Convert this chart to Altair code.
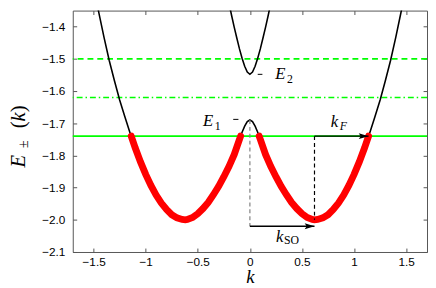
import altair as alt
import pandas as pd

# ---------------- data ----------------
k_band = [-1.5, -1.45, -1.4, -1.35, -1.3, -1.25, -1.2, -1.15, -1.1, -1.05, -1.0,
          -0.95, -0.9, -0.85, -0.8, -0.75, -0.7, -0.65, -0.62, -0.6, -0.55, -0.5,
          -0.45, -0.4, -0.35, -0.3, -0.25, -0.2, -0.15, -0.1, -0.075, -0.05, -0.025,
          0.0,
          0.025, 0.05, 0.075, 0.1, 0.15, 0.2, 0.25, 0.3, 0.35, 0.4, 0.45, 0.5, 0.55,
          0.6, 0.62, 0.65, 0.7, 0.75, 0.8, 0.85, 0.9, 0.95, 1.0, 1.05, 1.1, 1.15,
          1.2, 1.25, 1.3, 1.35, 1.4, 1.45, 1.5]
E_lower = [-1.275, -1.356, -1.433, -1.505, -1.568, -1.628, -1.680, -1.730, -1.777, -1.820, -1.859,
           -1.893, -1.923, -1.948, -1.968, -1.984, -1.994, -1.999, -2.000, -1.999, -1.993, -1.981,
           -1.965, -1.946, -1.922, -1.896, -1.866, -1.834, -1.797, -1.750, -1.728, -1.709, -1.695,
           -1.690,
           -1.695, -1.709, -1.728, -1.750, -1.797, -1.834, -1.866, -1.896, -1.922, -1.946, -1.965, -1.981, -1.993,
           -1.999, -2.000, -1.999, -1.994, -1.984, -1.968, -1.948, -1.923, -1.893, -1.859, -1.820, -1.777, -1.730,
           -1.680, -1.628, -1.568, -1.505, -1.433, -1.356, -1.275]

k_upper = [-0.225, -0.2, -0.175, -0.15, -0.125, -0.1, -0.075, -0.05, -0.025, 0.0,
           0.025, 0.05, 0.075, 0.1, 0.125, 0.15, 0.175, 0.2, 0.225]
E_upper = [-1.288, -1.328, -1.366, -1.402, -1.436, -1.469, -1.498, -1.523, -1.541, -1.548,
           -1.541, -1.523, -1.498, -1.469, -1.436, -1.402, -1.366, -1.328, -1.288]

E_levels = [-1.5, -1.62, -1.74]
level_styles = ["dash", "dashdot", "solid"]
E_fermi = -1.74
k_fermi_cross = [-1.139, -0.089, 0.089, 1.139]

# vertical dashed guides
vd_k = [0.0, 0.62]
vd_E0 = [-1.69, -1.74]
vd_E1 = [-2.02, -2.0]
vd_col = ["#808080", "black"]

# arrows (k_SO, k_F)
arr_k0 = [0.0, 0.62]
arr_k1 = [0.62, 1.139]
arr_E = [-2.02, -1.74]

# short marker dashes next to E1 / E2
dash_k0 = [-0.16, 0.075]
dash_k1 = [-0.11, 0.12]
dash_E = [-1.688, -1.548]

# annotation texts
main_txt = ["E", "E", "k", "k"]
main_k = [0.244, -0.45, 0.776, 0.25]
main_E = [-1.564, -1.710, -1.713, -2.069]
sub_txt = ["2", "1", "SO"]
sub_k = [0.356, -0.338, 0.328]
sub_E = [-1.576, -1.722, -2.074]
subi_txt = ["F"]
subi_k = [0.863]
subi_E = [-1.722]

x_ticks = [-1.5, -1, -0.5, 0, 0.5, 1, 1.5]
y_ticks = [-2.1, -2.0, -1.9, -1.8, -1.7, -1.6, -1.5, -1.4]

# ---------------- layout ----------------
W, H = 361, 246
xs = alt.Scale(domain=[-1.7, 1.7], nice=False, zero=False)
ys = alt.Scale(domain=[-2.1, -1.35], nice=False, zero=False)
AX = "#555555"
SERIF = "Liberation Serif"

ax_x_main = alt.Axis(values=x_ticks, format="~g", orient="bottom", ticks=False, domain=False,
                     grid=False, labelFont="Liberation Sans", labelFontSize=12, labelColor="black",
                     labelPadding=5, title="k", titleFont=SERIF, titleFontStyle="italic",
                     titleFontWeight="normal", titleFontSize=19, titleColor="black", titlePadding=0)
ax_y_main = alt.Axis(values=y_ticks, format=".1f", orient="left", ticks=False, domain=False,
                     grid=False, labelFont="Liberation Sans", labelFontSize=12, labelColor="black",
                     labelPadding=8, title=None)


def tick_axis(vals, orient, off):
    return alt.Axis(values=vals, orient=orient, offset=off, labels=False, domain=False, grid=False,
                    ticks=True, tickSize=4, tickColor=AX, tickWidth=1, title=None)


df_band = pd.DataFrame({"k": k_band, "E": E_lower})
df_up = pd.DataFrame({"k": k_upper, "E": E_upper})

red_rows = []
for side, lo, hi in [("L", k_fermi_cross[0], k_fermi_cross[1]), ("R", k_fermi_cross[2], k_fermi_cross[3])]:
    red_rows.append({"k": lo, "E": E_fermi, "side": side})
    for kk, ee in zip(k_band, E_lower):
        if lo < kk < hi:
            red_rows.append({"k": kk, "E": ee, "side": side})
    red_rows.append({"k": hi, "E": E_fermi, "side": side})
df_red = pd.DataFrame(red_rows)

df_levels = pd.DataFrame({"E": E_levels, "style": level_styles})
df_vd = pd.DataFrame({"k": vd_k, "E0": vd_E0, "E1": vd_E1, "col": vd_col})
df_arr = pd.DataFrame({"k0": arr_k0, "k1": arr_k1, "E": arr_E})
df_dash = pd.DataFrame({"k0": dash_k0, "k1": dash_k1, "E": dash_E})
df_main = pd.DataFrame({"t": main_txt, "k": main_k, "E": main_E})
df_sub = pd.DataFrame({"t": sub_txt, "k": sub_k, "E": sub_E})
df_subi = pd.DataFrame({"t": subi_txt, "k": subi_k, "E": subi_E})

X = lambda f: alt.X(f, type="quantitative", scale=xs, axis=None)
Y = lambda f: alt.Y(f, type="quantitative", scale=ys, axis=None)

green = alt.Chart(df_levels).mark_rule(color="#00ff00", strokeWidth=1.7).encode(
    y=Y("E"),
    strokeDash=alt.StrokeDash("style:N", scale=alt.Scale(domain=level_styles,
                              range=[[6, 4], [6, 3, 1.5, 3], [1, 0]]), legend=None),
)

black_lower = alt.Chart(df_band).mark_line(color="black", strokeWidth=1.6, clip=True).encode(
    x=alt.X("k:Q", scale=xs, axis=ax_x_main),
    y=alt.Y("E:Q", scale=ys, axis=ax_y_main),
)

black_upper = alt.Chart(df_up).mark_line(color="black", strokeWidth=1.6, clip=True).encode(
    x=alt.X("k:Q", scale=xs, axis=tick_axis(x_ticks, "top", -H)),
    y=alt.Y("E:Q", scale=ys, axis=tick_axis(y_ticks, "right", -W)),
)

red = alt.Chart(df_red).mark_line(color="#ff0000", strokeWidth=7, strokeCap="round").encode(
    x=alt.X("k:Q", scale=xs, axis=tick_axis(x_ticks, "bottom", -H)),
    y=alt.Y("E:Q", scale=ys, axis=tick_axis(y_ticks, "left", -W)),
    detail="side:N",
)

vdash = alt.Chart(df_vd).mark_rule(strokeDash=[4, 3], strokeWidth=1.2).encode(
    x=X("k"), y=Y("E0"), y2="E1", color=alt.Color("col:N", scale=None)
)

arrows = alt.Chart(df_arr).mark_rule(color="black", strokeWidth=1.4).encode(
    x=X("k0"), x2="k1", y=Y("E")
)
heads = alt.Chart(df_arr).mark_point(shape="M0,0 L-2,-0.6 L-1.6,0 L-2,0.6 Z", filled=True,
                                     color="black", size=100, opacity=1, strokeWidth=0).encode(
    x=X("k1"), y=Y("E")
)
dashes = alt.Chart(df_dash).mark_rule(color="black", strokeWidth=1).encode(
    x=X("k0"), x2="k1", y=Y("E")
)

t_main = alt.Chart(df_main).mark_text(font=SERIF, fontStyle="italic", fontSize=17, align="left",
                                      baseline="alphabetic", color="black").encode(
    x=X("k"), y=Y("E"), text="t:N")
t_sub = alt.Chart(df_sub).mark_text(font=SERIF, fontSize=12, align="left",
                                    baseline="alphabetic", color="black").encode(
    x=X("k"), y=Y("E"), text="t:N")
t_subi = alt.Chart(df_subi).mark_text(font=SERIF, fontStyle="italic", fontSize=12, align="left",
                                      baseline="alphabetic", color="black").encode(
    x=X("k"), y=Y("E"), text="t:N")

# y-axis title  E_±(k), rotated
one = pd.DataFrame({"a": [0]})
ytitle_parts = [("E", "italic", 21, -49, 160), ("±", "normal", 14, -46, 140),
                ("(", "normal", 21, -49, 120), ("k", "italic", 21, -49, 113),
                (")", "normal", 21, -49, 103.7)]
ytitle = []
for txt, sty, fs, px, py in ytitle_parts:
    ytitle.append(alt.Chart(one).mark_text(text=txt, font=SERIF, fontStyle=sty, fontSize=fs,
                                           angle=270, align="left", baseline="alphabetic",
                                           color="black").encode(x=alt.value(px), y=alt.value(py)))

chart = alt.layer(
    green, black_lower, black_upper, red, vdash, arrows, heads, dashes,
    t_main, t_sub, t_subi, *ytitle
).resolve_axis(x="independent", y="independent").properties(
    width=W, height=H,
    autosize=alt.AutoSizeParams(type="none"),
    padding={"left": 66, "top": 0, "right": 1, "bottom": 32},
).configure_view(stroke=AX, strokeWidth=1)

chart.save("out.html", embed_options={"renderer": "svg", "actions": False})
